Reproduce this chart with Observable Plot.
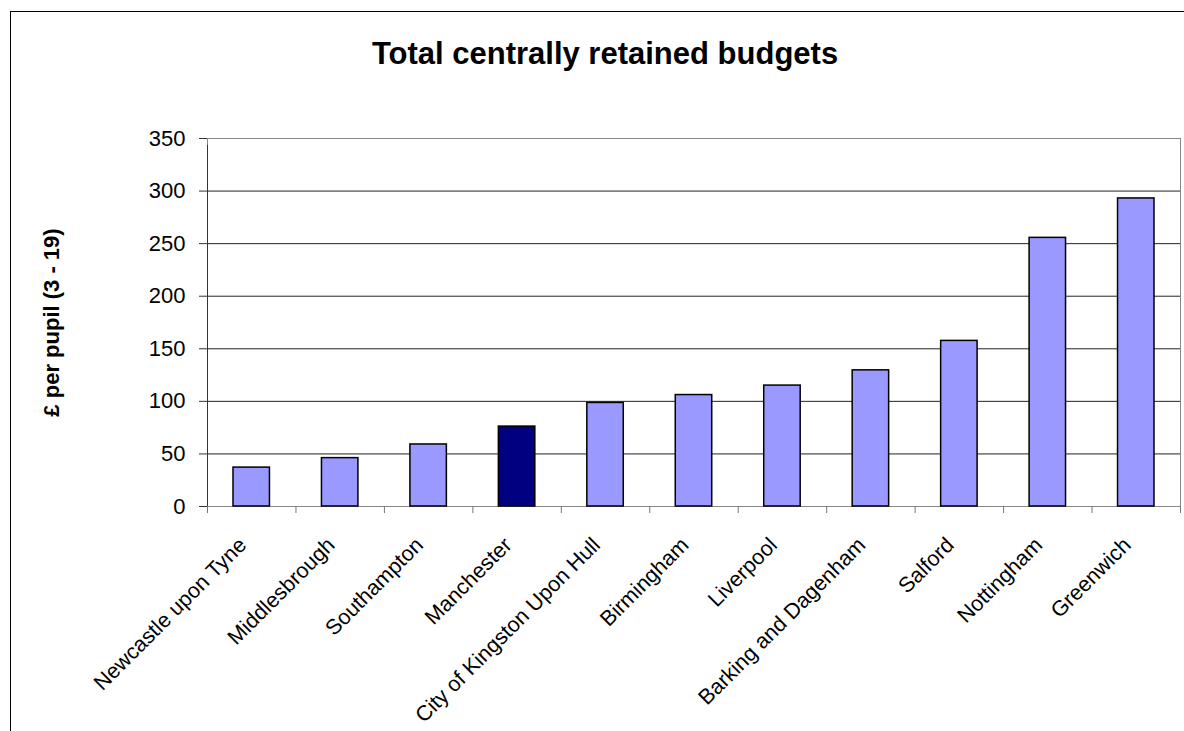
<!DOCTYPE html>
<html>
<head>
<meta charset="utf-8">
<script src="https://cdn.jsdelivr.net/npm/d3@7"></script>
<script src="https://cdn.jsdelivr.net/npm/@observablehq/plot@0.6"></script>
<style>
  html, body { margin: 0; padding: 0; background: #fff; overflow: hidden; }
  #wrap { position: relative; width: 1184px; height: 731px; font-family: "Liberation Sans", Arial, sans-serif; }
  #border { position: absolute; left: 10px; top: 11px; width: 1200px; height: 740px; border-left: 1px solid #000; border-top: 1px solid #000; pointer-events: none; }
  #title { box-sizing: border-box; width: 1184px; height: 100px; padding-top: 38px; padding-left: 26px; line-height: 31px; font-size: 31px; font-weight: bold; text-align: center; color: #000; }
  svg { display: block; }
</style>
</head>
<body>
<div id="wrap">
  <div id="border"></div>
  <div id="title">Total centrally retained budgets</div>
  <div id="chart"></div>
</div>
<script>
const categories = [
  "Newcastle upon Tyne", "Middlesbrough", "Southampton", "Manchester",
  "City of Kingston Upon Hull", "Birmingham", "Liverpool",
  "Barking and Dagenham", "Salford", "Nottingham", "Greenwich"
];
const values = [37, 46, 59, 76, 98.5, 106, 115, 129.5, 157.5, 255.5, 293];
const highlight = "Manchester";
const yTicks = [0, 50, 100, 150, 200, 250, 300, 350];
const yLabel = "£ per pupil (3 - 19)";

const data = categories.map((name, i) => ({name, value: values[i]}));

const W = 1184, H = 631, ML = 207, MR = 4, MT = 38, MB = 225;
const bw = (W - ML - MR) / categories.length;

const chart = Plot.plot({
  width: W, height: H,
  marginTop: MT, marginBottom: MB, marginLeft: ML, marginRight: MR,
  style: {fontFamily: "'Liberation Sans', Arial, sans-serif", fontSize: "22px", color: "#000", background: "transparent", overflow: "visible"},
  x: {domain: categories, padding: 0, round: false, label: null},
  y: {domain: [0, 350], label: null},
  marks: [
    Plot.ruleY(yTicks.filter(d => d > 0 && d < 350), {stroke: "#222", strokeWidth: 1}),
    Plot.frame({stroke: "#888", strokeWidth: 1}),
    Plot.barY(data, {
      x: "name", y: "value",
      fill: d => d.name === highlight ? "#000080" : "#9999FF",
      stroke: "#000", strokeWidth: 1.5,
      insetLeft: 26, insetRight: 26
    }),
    Plot.ruleX(categories, {dx: -bw / 2, y1: 0, y2: 0, insetBottom: -7, stroke: "#777"}),
    Plot.ruleX(categories.slice(-1), {dx: bw / 2, y1: 0, y2: 0, insetBottom: -7, stroke: "#777"}),
    Plot.ruleX(categories.slice(0, 1), {dx: -bw / 2, y1: 0, y2: 350, insetBottom: -7, stroke: "#333"}),
    Plot.axisY({ticks: yTicks, tickSize: 8, tickPadding: 14, stroke: "#333", fontSize: 22, label: null}),
    Plot.axisX({tickRotate: -45, tickSize: 0, tickPadding: 22, dx: -9, dy: 13, fontSize: 21.5, label: null}),
    Plot.text([yLabel], {frameAnchor: "left", textAnchor: "middle", rotate: -90, dx: -156, fontWeight: "bold", fontSize: 22, text: d => d})
  ]
});
document.getElementById("chart").appendChild(chart);
</script>
</body>
</html>
